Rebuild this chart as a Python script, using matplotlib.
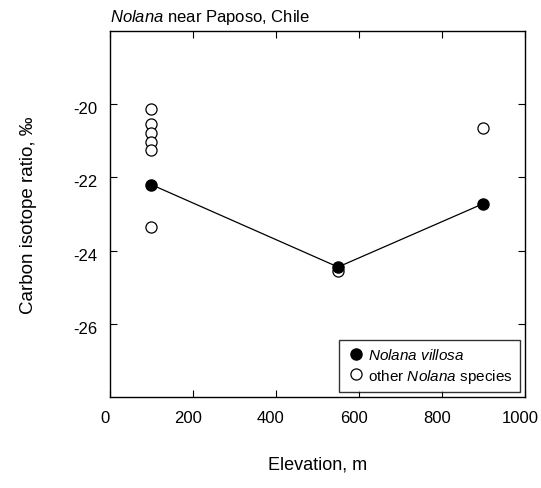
import numpy as np
import matplotlib
matplotlib.use("Agg")
from matplotlib import pyplot as plt
from matplotlib import transforms

plt.rcParams['font.family'] = ['Liberation Sans', 'DejaVu Sans']
plt.rcParams['mathtext.fontset'] = 'custom'
plt.rcParams['mathtext.rm'] = 'Liberation Sans'
plt.rcParams['mathtext.it'] = 'Liberation Sans:italic'
plt.rcParams['axes.unicode_minus'] = False

# Nolana villosa (filled, connected)
villosa_elev = [100, 550, 900]
villosa_d13c = [-22.2, -24.45, -22.72]

# other Nolana species (open)
other_elev = [100, 100, 100, 100, 100, 100, 550, 900]
other_d13c = [-20.13, -20.55, -20.8, -21.04, -21.25, -23.37, -24.55, -20.66]

x_ticks = [0, 200, 400, 600, 800, 1000]
y_ticks = [-26, -24, -22, -20]

fig = plt.figure(figsize=(5.41, 4.89), dpi=100)
ax = fig.add_axes([0.203, 0.186, 0.767, 0.749])

ax.plot(villosa_elev, villosa_d13c, color='black', lw=0.9, zorder=2)
ax.plot(villosa_elev, villosa_d13c, 'o', color='black', ms=8, ls='none',
        label=r'$\it{Nolana\ villosa}$', zorder=4)
ax.plot(other_elev, other_d13c, 'o', mfc='white', mec='black', mew=0.9, ms=8,
        ls='none', label=r'other $\it{Nolana}$ species', zorder=3)

ax.set_xlim(0, 1000)
ax.set_ylim(-28, -18)
ax.set_xticks(x_ticks)
ax.set_yticks(y_ticks)
ax.tick_params(direction='in', top=True, right=True, length=5, width=0.8,
               labelsize=12, pad=9)
for s in ax.spines.values():
    s.set_linewidth(1.0)

# tick labels in the original sit a little left / below their ticks
dx = transforms.ScaledTranslation(-5 / 100, 0, fig.dpi_scale_trans)
for lab in ax.get_xticklabels():
    lab.set_transform(lab.get_transform() + dx)
dy = transforms.ScaledTranslation(0, -3 / 100, fig.dpi_scale_trans)
for lab in ax.get_yticklabels():
    lab.set_transform(lab.get_transform() + dy)

ax.set_xlabel('Elevation, m', fontsize=13, labelpad=22)
ax.set_ylabel('Carbon isotope ratio, ‰', fontsize=13.5, labelpad=26)
ax.set_title(r'$\it{Nolana}$ near Paposo, Chile', fontsize=12, loc='left', pad=7)

leg = ax.legend(loc='lower right', fontsize=11, frameon=True, fancybox=False,
                edgecolor='black', borderpad=0.5, handletextpad=0.2,
                handlelength=1.2, labelspacing=0.3, borderaxespad=0.3)
leg.get_frame().set_linewidth(1.0)

fig.savefig('out.png', dpi=100)
